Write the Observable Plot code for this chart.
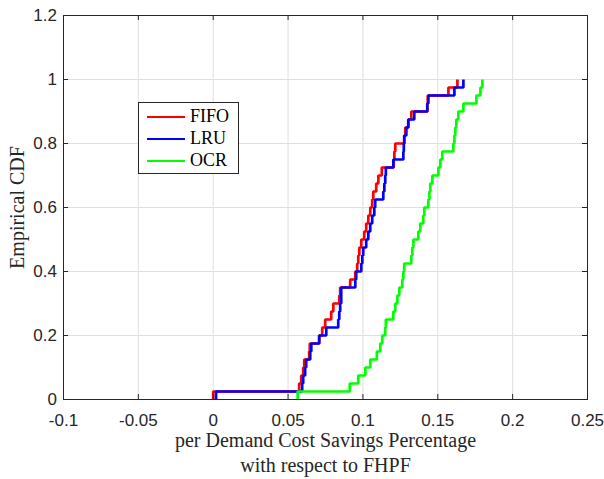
<!DOCTYPE html>
<html>
<head>
<meta charset="utf-8">
<script src="https://cdn.jsdelivr.net/npm/d3@7"></script>
<script src="https://cdn.jsdelivr.net/npm/@observablehq/plot@0.6"></script>
<style>
  html, body { margin: 0; padding: 0; background: #fff; }
  #wrap { position: relative; width: 604px; height: 479px; }
  #legend { position: absolute; left: 138px; top: 102px; width: 99px; height: 70px;
            border: 1px solid #262626; background: #fff; box-sizing: content-box; }
  #legend .row { position: absolute; left: 0; height: 20px; width: 100%; }
  #legend .sw { position: absolute; left: 8px; top: 9px; width: 38px; height: 0; border-top: 2.7px solid; }
  #legend .lb { position: absolute; left: 51px; top: -2px; font-family: "Liberation Serif", serif;
                font-size: 18px; color: #000; line-height: 22px; }
</style>
</head>
<body>
<div id="wrap"><div id="chart"></div><div id="legend"></div></div>
<script>
// Sorted sample values (40 per series)
const fifo = [0.0000, 0.0574, 0.0588, 0.0601, 0.0608, 0.0641, 0.0645, 0.0708, 0.0728, 0.0748,
              0.0788, 0.0802, 0.0842, 0.0848, 0.0915, 0.0949, 0.0962, 0.0969, 0.0976, 0.0989,
              0.1009, 0.1022, 0.1036, 0.1049, 0.1062, 0.1069, 0.1089, 0.1103, 0.1126, 0.1206,
              0.1210, 0.1216, 0.1276, 0.1283, 0.1303, 0.1323, 0.1430, 0.1433, 0.1571, 0.1631];
const lru  = [0.0019, 0.0594, 0.0601, 0.0614, 0.0621, 0.0648, 0.0655, 0.0708, 0.0755, 0.0835,
              0.0842, 0.0848, 0.0855, 0.0855, 0.0949, 0.0955, 0.0989, 0.0996, 0.1002, 0.1022,
              0.1036, 0.1049, 0.1062, 0.1076, 0.1082, 0.1136, 0.1143, 0.1149, 0.1153, 0.1203,
              0.1270, 0.1273, 0.1276, 0.1290, 0.1303, 0.1343, 0.1430, 0.1437, 0.1611, 0.1671];
const ocr  = [0.0564, 0.0912, 0.0969, 0.1016, 0.1049, 0.1093, 0.1116, 0.1129, 0.1149, 0.1153,
              0.1203, 0.1216, 0.1230, 0.1243, 0.1263, 0.1270, 0.1276, 0.1323, 0.1330, 0.1337,
              0.1370, 0.1383, 0.1403, 0.1410, 0.1437, 0.1444, 0.1450, 0.1464, 0.1504, 0.1517,
              0.1530, 0.1604, 0.1611, 0.1617, 0.1624, 0.1637, 0.1671, 0.1758, 0.1785, 0.1798];

const seriesNames = ["FIFO", "LRU", "OCR"];
const seriesColors = ["#ff0000", "#0000ff", "#00ff00"];
const seriesData = [fifo, lru, ocr];

const xTicks = [-0.1, -0.05, 0, 0.05, 0.1, 0.15, 0.2, 0.25];
const xTickLabels = ["-0.1", "-0.05", "0", "0.05", "0.1", "0.15", "0.2", "0.25"];
const yTicks = [0, 0.2, 0.4, 0.6, 0.8, 1, 1.2];
const yTickLabels = ["0", "0.2", "0.4", "0.6", "0.8", "1", "1.2"];

const xLabel = "per Demand Cost Savings Percentage\nwith respect to FHPF";
const yLabel = "Empirical CDF";

// ECDF staircase points
function ecdf(vals, name) {
  const s = vals.slice().sort((a, b) => a - b);
  const n = s.length;
  const pts = [{x: s[0], y: 0, name}];
  s.forEach((v, i) => pts.push({x: v, y: (i + 1) / n, name}));
  return pts;
}

const W = 604, H = 479;
const mL = 63, mR = 17, mT = 15, mB = 80;
const innerW = W - mL - mR, innerH = H - mT - mB;
const axisColor = "#262626";
const gridColor = "#dfdfdf";

const chart = Plot.plot({
  width: W, height: H,
  marginLeft: mL, marginRight: mR, marginTop: mT, marginBottom: mB,
  style: {fontFamily: "'Liberation Sans', Arial, sans-serif", fontSize: "17px", color: axisColor, background: "#fff"},
  x: {domain: [-0.1, 0.25]},
  y: {domain: [0, 1.2]},
  marks: [
    Plot.gridX(xTicks, {stroke: gridColor, strokeOpacity: 1}),
    Plot.gridY(yTicks, {stroke: gridColor, strokeOpacity: 1}),
    ...seriesData.map((vals, k) =>
      Plot.line(ecdf(vals, seriesNames[k]), {
        x: "x", y: "y", curve: "step-after",
        stroke: seriesColors[k], strokeWidth: 2.7,
        strokeLinejoin: "miter", strokeLinecap: "butt"
      })),
    Plot.frame({stroke: axisColor, strokeWidth: 1}),
    Plot.tickX(xTicks, {x: d => d, insetTop: innerH - 5, stroke: axisColor}),
    Plot.tickX(xTicks, {x: d => d, insetBottom: innerH - 5, stroke: axisColor}),
    Plot.tickY(yTicks, {y: d => d, insetRight: innerW - 5, stroke: axisColor}),
    Plot.tickY(yTicks, {y: d => d, insetLeft: innerW - 5, stroke: axisColor}),
    Plot.axisX(xTicks, {anchor: "bottom", tickSize: 0, tickPadding: 14, label: null,
      tickFormat: d => xTickLabels[xTicks.indexOf(d)], fill: axisColor}),
    Plot.axisY(yTicks, {anchor: "left", tickSize: 0, tickPadding: 6.5, label: null,
      tickFormat: d => yTickLabels[yTicks.indexOf(d)], fill: axisColor}),
    Plot.text([xLabel], {frameAnchor: "bottom", text: d => d, lineAnchor: "top", dy: 30,
      lineHeight: 1.25, fontFamily: "'Liberation Serif', 'Times New Roman', serif",
      fontSize: 20, fill: axisColor}),
    Plot.text([yLabel], {frameAnchor: "left", text: d => d, rotate: -90, lineAnchor: "bottom",
      textAnchor: "middle", dx: -40, fontFamily: "'Liberation Serif', 'Times New Roman', serif",
      fontSize: 20, fill: axisColor})
  ]
});
document.getElementById("chart").appendChild(chart);

// Legend
const legend = document.getElementById("legend");
seriesNames.forEach((name, i) => {
  const row = document.createElement("div");
  row.className = "row";
  row.style.top = (4 + i * 22) + "px";
  const sw = document.createElement("div");
  sw.className = "sw";
  sw.style.borderTopColor = seriesColors[i];
  const lb = document.createElement("div");
  lb.className = "lb";
  lb.textContent = name;
  row.appendChild(sw);
  row.appendChild(lb);
  legend.appendChild(row);
});
</script>
</body>
</html>
